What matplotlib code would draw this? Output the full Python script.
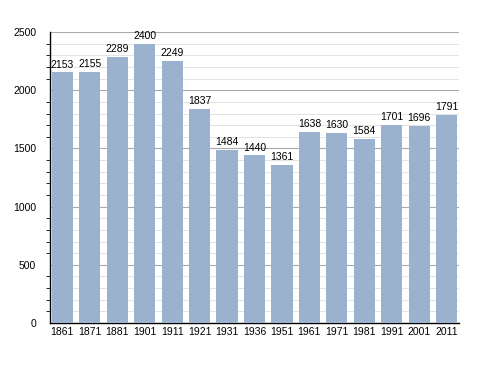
import matplotlib.pyplot as plt
from matplotlib.ticker import MultipleLocator

plt.rcParams['font.family'] = ['Liberation Sans', 'DejaVu Sans']

# Datos
years = ["1861", "1871", "1881", "1901", "1911", "1921", "1931", "1936",
         "1951", "1961", "1971", "1981", "1991", "2001", "2011"]
population = [2153, 2155, 2289, 2400, 2249, 1837, 1484, 1440,
              1361, 1638, 1630, 1584, 1701, 1696, 1791]

fig = plt.figure(figsize=(4.88, 3.73), dpi=100)
ax = fig.add_axes([0.1025, 0.134, 0.838, 0.78])

x = range(len(years))
ax.bar(x, population, width=0.77, color="#9bb2cf", zorder=3)

# Etiquetas de valores
for xi, v in zip(x, population):
    ax.text(xi, v + 25, str(v), ha="center", va="bottom", fontsize=7.5, zorder=4)

ax.set_xlim(-0.45, len(years) - 0.55)
ax.set_ylim(0, 2500)
ax.set_xticks(list(x))
ax.set_xticklabels(years, fontsize=7.5)
ax.yaxis.set_major_locator(MultipleLocator(500))
ax.yaxis.set_minor_locator(MultipleLocator(100))
ax.tick_params(axis="y", which="major", length=0, labelsize=7.5, pad=10)
ax.tick_params(axis="y", which="minor", length=3, width=0.6)
ax.tick_params(axis="x", length=0, pad=3)

ax.grid(axis="y", which="major", color="#aaaaaa", linewidth=0.8, zorder=0)
ax.grid(axis="y", which="minor", color="#dedede", linewidth=0.6, zorder=0)

for s in ["top", "right"]:
    ax.spines[s].set_visible(False)
ax.spines["left"].set_linewidth(1.0)
ax.spines["bottom"].set_linewidth(1.0)

plt.savefig("out.png", dpi=100)
